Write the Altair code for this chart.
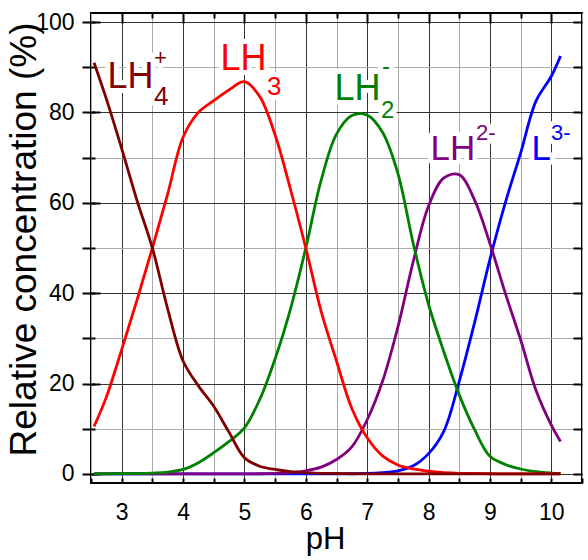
import altair as alt
import pandas as pd

# ---------------- data ----------------
ph = [2.55, 2.75, 3.0, 3.25, 3.5, 3.75, 4.0, 4.25, 4.5, 4.75, 5.0, 5.25, 5.5, 5.75,
      6.0, 6.25, 6.5, 6.75, 7.0, 7.25, 7.5, 7.75, 8.0, 8.25, 8.5, 8.75, 9.0, 9.25,
      9.5, 9.75, 10.0, 10.15]

lh4 = [91, 83, 72, 60.5, 50, 36.5, 25, 19.5, 15, 9.2, 3.6, 1.7, 1.0, 0.5,
       0.3, 0.15, 0.1, 0.05, 0.03, 0.02, 0.01, 0, 0, 0, 0, 0, 0, 0,
       0, 0, 0, 0]
lh3 = [10.5, 17, 27.5, 38.5, 50, 62, 74.5, 80, 82.6, 85, 86.8, 83.5, 75, 63,
       50, 36, 25, 14.5, 8, 4, 2, 1.1, 0.6, 0.3, 0.15, 0.1, 0.05, 0.03,
       0.02, 0.01, 0, 0]
lh2 = [0.05, 0.05, 0.1, 0.1, 0.2, 0.4, 1.0, 2.5, 4.7, 7.2, 10.2, 16.5, 25.5, 36.5,
       50, 65, 75.2, 79.3, 79.4, 75.6, 66.5, 51, 37.5, 27, 17.5, 9.8, 3.9, 2.1,
       1.1, 0.5, 0.2, 0.1]
lh_2m = [0, 0, 0, 0, 0, 0, 0, 0, 0, 0, 0.02, 0.05, 0.15, 0.3,
         0.7, 1.5, 3.2, 6.0, 12, 20.5, 32.5, 47, 59.3, 65.5, 66.2, 60.6, 51, 40,
         29.7, 18.5, 10.8, 7.2]
l3 = [0, 0, 0, 0, 0, 0, 0, 0, 0, 0, 0, 0, 0, 0,
      0, 0, 0, 0.05, 0.1, 0.3, 0.7, 1.8, 4.5, 9.5, 20.5, 33.5, 47.5, 60,
      71, 82.5, 88, 92.5]

# draw order (last on top)
series = [("L3-", l3, "#0000ff"),
          ("LH2-(2-)", lh_2m, "#800080"),
          ("LH2-", lh2, "#008000"),
          ("LH3", lh3, "#ff0000"),
          ("LH4+", lh4, "#800000")]

# species labels (main letters, superscripts and subscripts)
lab_text = ["LH", "+", "4", "LH", "3", "LH", "-", "2", "LH", "2-", "L", "3-"]
lab_ph = [2.769, 3.526, 3.526, 4.610, 5.368, 6.467, 7.241, 7.225, 8.032, 8.773,
          9.677, 9.995]
lab_conc = [85.4, 90.6, 81.6, 89.4, 83.9, 82.7, 88.5, 78.8, 69.5, 73.9, 69.5, 73.9]
lab_size = [36, 22, 26, 36, 26, 36, 24, 24, 35, 22, 35, 22]
lab_color = ["#800000", "#800000", "#800000", "#ff0000", "#ff0000",
             "#008000", "#008000", "#008000", "#800080", "#800080",
             "#0000ff", "#0000ff"]

x_half = [2.5 + 0.5 * i for i in range(17)]
x_int = list(range(3, 11))
x_mid = [3.5 + i for i in range(7)]
y_10 = list(range(0, 101, 10))
y_20 = list(range(0, 101, 20))

FONT = "Liberation Sans, Arial, sans-serif"

xscale = alt.Scale(domain=[2.5, 10.5], nice=False, zero=False)
yscale = alt.Scale(domain=[-2, 102], nice=False, zero=False)

df_lines = pd.concat(
    [pd.DataFrame({"pH": ph, "conc": vals, "sp": name}) for name, vals, _ in series],
    ignore_index=True)
df_lab = pd.DataFrame({"x": lab_ph, "y": lab_conc, "t": lab_text,
                       "s": lab_size, "c": lab_color})

grid_x_color = {"condition": {"test": "datum.value % 1 === 0", "value": "#333333"},
                "value": "#ababab"}
grid_y_color = {"condition": {"test": "datum.value % 20 === 0", "value": "#333333"},
                "value": "#ababab"}

main_x_axis = alt.Axis(orient="bottom", values=x_half, grid=True, gridColor=grid_x_color,
                       gridWidth=1, ticks=False, domain=False,
                       labelExpr="datum.value % 1 === 0 ? format(datum.value, 'd') : ''",
                       labelFont=FONT, labelFontSize=23, labelColor="black",
                       labelBaseline="alphabetic", labelPadding=36,
                       labelOverlap=False, labelFlush=False,
                       title="pH", titleFont=FONT, titleFontSize=31,
                       titleFontWeight="normal", titleColor="black",
                       titleX=234, titleY=65, titleAlign="center",
                       titleBaseline="alphabetic")
main_y_axis = alt.Axis(orient="left", values=y_10, grid=True, gridColor=grid_y_color,
                       gridWidth=1, ticks=True, tickSize=9, tickWidth=2,
                       tickColor="black", domain=False,
                       labelExpr="datum.value % 20 === 0 ? format(datum.value, 'd') : ''",
                       labelFont=FONT, labelFontSize=23, labelColor="black",
                       labelPadding=8, labelOverlap=False, labelFlush=False,
                       title="Relative concentration (%)", titleFont=FONT,
                       titleFontSize=37, titleFontWeight="normal", titleColor="black",
                       titleX=-56, titleY=226, titleAngle=270, titleAlign="center",
                       titleBaseline="alphabetic")

axes_layer = alt.Chart(df_lines).mark_point(opacity=0).encode(
    x=alt.X("pH:Q", scale=xscale, axis=main_x_axis),
    y=alt.Y("conc:Q", scale=yscale, axis=main_y_axis))


def tick_axis(orient, values, size):
    return alt.Axis(orient=orient, values=values, offset=-size, tickSize=size,
                    tickWidth=2, tickColor="black", labels=False, domain=False,
                    grid=False, title=None)


tick_layers = []
for orient, values, size in [("top", x_int, 10), ("top", x_mid, 5),
                             ("bottom", x_half, 5)]:
    tick_layers.append(alt.Chart(df_lines).mark_point(opacity=0).encode(
        x=alt.X("pH:Q", scale=xscale, axis=tick_axis(orient, values, size)),
        y=alt.Y("conc:Q", scale=yscale, axis=None)))
for orient, values, size in [("right", y_10, 9), ("left", y_20, 9), ("left", y_10, 4)]:
    tick_layers.append(alt.Chart(df_lines).mark_point(opacity=0).encode(
        x=alt.X("pH:Q", scale=xscale, axis=None),
        y=alt.Y("conc:Q", scale=yscale, axis=tick_axis(orient, values, size))))

halo = alt.Chart(df_lab).mark_text(align="left", baseline="alphabetic", font=FONT,
                                   stroke="white", strokeWidth=10,
                                   strokeJoin="round").encode(
    x=alt.X("x:Q", scale=xscale, axis=None),
    y=alt.Y("y:Q", scale=yscale, axis=None),
    text="t:N",
    size=alt.Size("s:Q", scale=None),
    color=alt.value("white"))

line_layers = []
for name, _, col in series:
    line_layers.append(
        alt.Chart(df_lines).transform_filter(alt.datum.sp == name)
        .mark_line(color=col, strokeWidth=2.8, interpolate="catmull-rom")
        .encode(x=alt.X("pH:Q", scale=xscale, axis=None),
                y=alt.Y("conc:Q", scale=yscale, axis=None)))

labels = alt.Chart(df_lab).mark_text(align="left", baseline="alphabetic",
                                     font=FONT).encode(
    x=alt.X("x:Q", scale=xscale, axis=None),
    y=alt.Y("y:Q", scale=yscale, axis=None),
    text="t:N",
    size=alt.Size("s:Q", scale=None),
    color=alt.Color("c:N", scale=None))

chart = alt.layer(axes_layer, *tick_layers, halo, *line_layers, labels).resolve_axis(
    x="independent", y="independent"
).properties(
    width=491, height=470,
    autosize=alt.AutoSizeParams(type="none"),
    padding={"left": 91, "top": 13, "right": 6, "bottom": 77},
    background="white",
).configure_view(stroke="black", strokeWidth=2)

chart.save("out.html", embed_options={"renderer": "svg", "actions": False})
